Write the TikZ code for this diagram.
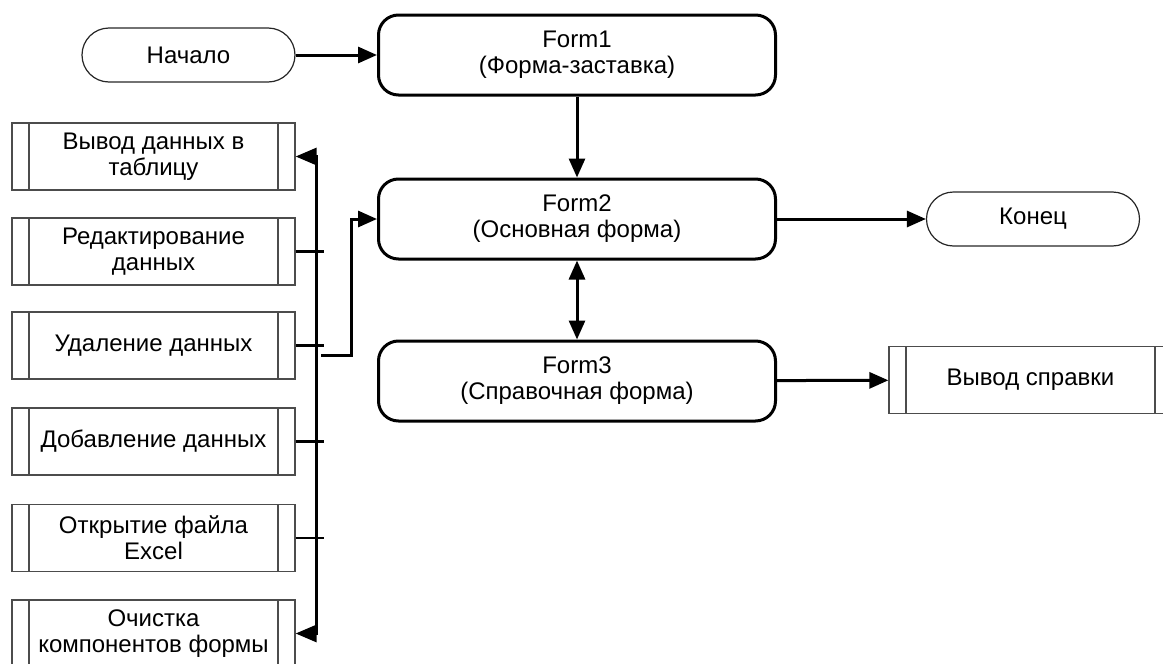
\documentclass[tikz,border=0pt]{standalone}
\usepackage{fontspec}
\setmainfont{Liberation Sans}
\usetikzlibrary{arrows.meta}

\tikzset{
  txt/.style={font=\fontsize{24}{26}\selectfont, align=center, inner sep=0pt},
  terminal/.style={txt, draw=black!85, line width=1.2pt, rectangle, rounded corners=27pt,
    minimum width=213pt, minimum height=54pt},
  formbox/.style={txt, draw=black, line width=3pt, rectangle, rounded corners=20pt,
    minimum width=397pt, minimum height=80pt},
  procbox/.style={txt, draw=black!70, line width=1.2pt, rectangle,
    minimum width=283pt, minimum height=67pt,
    path picture={
      \draw[black!70, line width=1.2pt]
        ([xshift=17pt]path picture bounding box.north west) --
        ([xshift=17pt]path picture bounding box.south west)
        ([xshift=-17pt]path picture bounding box.north east) --
        ([xshift=-17pt]path picture bounding box.south east);
    }},
  conn/.style={draw=black, line width=3pt},
  tip/.tip={Triangle[length=19pt, width=16pt]},
  bigtip/.tip={Triangle[length=21pt, width=17pt]},
  arr/.style={conn, -tip},
  stub/.style={draw=black, line width=2.2pt},
}

\begin{document}
\begin{tikzpicture}[x=1pt, y=-1pt]
  \useasboundingbox (0,0) rectangle (1163,664);

  % main flow
  \node[terminal] (start) at (188.5,55) {Начало};
  \node[formbox]  (f1) at (577,55)  {Form1\\(Форма-заставка)};
  \node[formbox]  (f2) at (577,219) {Form2\\(Основная форма)};
  \node[formbox]  (f3) at (577,381) {Form3\\(Справочная форма)};
  \node[terminal] (end) at (1033,219) {Конец};
  \node[procbox]  (help) at (1030.5,380) {Вывод справки};

  % procedures of the main form
  \node[procbox] (b1) at (153.5,156.5) {Вывод данных в\\таблицу};
  \node[procbox] (b2) at (153.5,251.5) {Редактирование\\данных};
  \node[procbox] (b3) at (153.5,345.5) {Удаление данных};
  \node[procbox] (b4) at (153.5,441.5) {Добавление данных};
  \node[procbox] (b5) at (153.5,538)   {Открытие файла\\Excel};
  \node[procbox] (b6) at (153.5,633.5) {Очистка\\компонентов формы};

  \draw[arr] (start) -- (f1);
  \draw[arr] (f1) -- (f2);
  \draw[arr] (f2) -- (end);
  \draw[conn, tip-tip] (f2) -- (f3);
  \draw[arr] (f3) -- (help);

  % bus joining the procedures
  \coordinate (bx) at (316,0);
  \draw[conn, bigtip-bigtip]
    (b1.east) -- (b1.east -| bx) -- (b6.east -| bx) -- (b6.east);
  \foreach \b in {b2,b3,b4,b5}
    \draw[stub] (\b.east) -- ++(28,0);

  % link from the bus to the main form
  \coordinate (j) at (321,355);
  \draw[arr] (j) -- ++(30,0) |- (f2.west);
\end{tikzpicture}
\end{document}
